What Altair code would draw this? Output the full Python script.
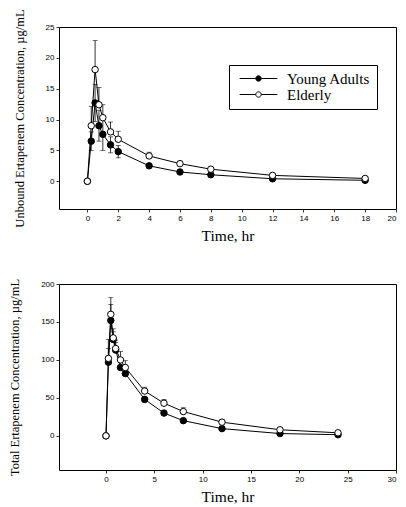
import altair as alt
import pandas as pd

# ---------------- data ----------------
series_names = ["Young Adults", "Elderly"]

times_unbound = [0, 0.25, 0.5, 0.75, 1, 1.5, 2, 4, 6, 8, 12, 18]
young_unbound = [0, 6.5, 12.7, 9.0, 7.6, 5.9, 4.8, 2.5, 1.5, 1.05, 0.4, 0.15]
young_unbound_sd = [0, 1.5, 3.0, 2.5, 2.6, 1.3, 1.0, 0.3, 0.2, 0.15, 0.1, 0.05]
elderly_unbound = [0, 9.0, 18.1, 12.4, 10.3, 8.0, 6.8, 4.1, 2.85, 1.95, 0.95, 0.45]
elderly_unbound_sd = [0, 3.1, 4.7, 2.8, 2.1, 1.6, 1.3, 0.6, 0.4, 0.3, 0.2, 0.1]

times_total = [0, 0.25, 0.5, 0.75, 1, 1.5, 2, 4, 6, 8, 12, 18, 24]
young_total = [0, 97, 152, 127, 113, 90, 82, 48, 30, 20, 9.5, 3, 1.5]
young_total_sd = [0, 18, 21, 10, 10, 8, 7, 4, 3, 2, 1.5, 1, 0.5]
elderly_total = [0, 102, 160, 129, 115, 100, 90, 59, 43, 32, 18, 8, 4]
elderly_total_sd = [0, 25, 22, 12, 11, 11, 9, 5, 5, 5, 3, 2, 1]

unbound_x_ticks = [0, 2, 4, 6, 8, 10, 12, 14, 16, 18, 20]
unbound_y_ticks = [0, 5, 10, 15, 20, 25]
total_x_ticks = [0, 5, 10, 15, 20, 25, 30]
total_y_ticks = [0, 50, 100, 150, 200]


def build(times, young, young_sd, eld, eld_sd, young_down):
    rows, caps = [], []
    for name, vals, sds, down in [(series_names[0], young, young_sd, young_down),
                                  (series_names[1], eld, eld_sd, False)]:
        for t, v, s in zip(times, vals, sds):
            lo = v - s if down else v
            hi = v + s
            rows.append({"t": t, "c": v, "series": name, "lo": lo, "hi": hi})
            if s > 0:
                caps.append({"t": t, "y": hi, "series": name})
                if down:
                    caps.append({"t": t, "y": lo, "series": name})
    return pd.DataFrame(rows), pd.DataFrame(caps)


df_u, caps_u = build(times_unbound, young_unbound, young_unbound_sd,
                     elderly_unbound, elderly_unbound_sd, True)
df_t, caps_t = build(times_total, young_total, young_total_sd,
                     elderly_total, elderly_total_sd, False)

SERIF = "Liberation Serif"
SANS = "Liberation Sans"

# legend glyph: short line through a small circle (circle radius = 1 unit)
legend_path = ("M-7,0L-1,0M1,0L7,0"
               "M1,0A1,1,0,1,1,-1,0A1,1,0,1,1,1,0Z")


def panel(df, caps, xdom, ydom, xticks, yticks, ytitle, ytitle_size, width, height, legend):
    xscale = alt.Scale(domain=xdom, nice=False, zero=False)
    yscale = alt.Scale(domain=ydom, nice=False, zero=False)
    xaxis = alt.Axis(values=xticks, title="Time, hr", titleFontSize=15.5,
                     titlePadding=6, labelOverlap=False)
    yaxis = alt.Axis(values=yticks, title=ytitle, titleFontSize=ytitle_size,
                     titlePadding=19, labelOverlap=False)

    def X(f):
        return alt.X(f, scale=xscale, axis=xaxis)

    def Y(f):
        return alt.Y(f, scale=yscale, axis=yaxis)

    base = alt.Chart(df)
    lines = base.mark_line(color="black", strokeWidth=1).encode(
        x=X("t:Q"), y=Y("c:Q"), detail="series:N")
    bars = base.mark_rule(color="black", strokeWidth=0.8).encode(
        x=X("t:Q"), y=Y("lo:Q"), y2="hi:Q")
    cap_marks = alt.Chart(caps).mark_tick(
        orient="horizontal", color="black", size=5, thickness=0.8).encode(
        x=X("t:Q"), y=Y("y:Q"))
    if legend:
        leg = alt.Legend(
            title=None, orient="none", legendX=170, legendY=38,
            symbolType=legend_path, symbolSize=29, symbolStrokeColor="black",
            symbolStrokeWidth=1, symbolOffset=16, labelFont=SERIF, labelFontSize=15,
            labelColor="black", labelOffset=21, strokeColor="black",
            fillColor="white", padding=6, rowPadding=0)
    else:
        leg = None
    pts = base.mark_point(filled=True, stroke="black", strokeWidth=1, size=42,
                          opacity=1, shape="circle").encode(
        x=X("t:Q"), y=Y("c:Q"),
        fill=alt.Fill("series:N", sort=series_names,
                      scale=alt.Scale(domain=series_names, range=["black", "white"]),
                      legend=leg),
        order=alt.Order("ord:Q"))
    pts = pts.transform_calculate(ord="datum.series == 'Young Adults' ? 0 : 1")
    return alt.layer(lines, bars, cap_marks, pts).properties(width=width, height=height)


top = panel(df_u, caps_u, [-1.84, 20], [-4.5, 25], unbound_x_ticks, unbound_y_ticks,
            "Unbound Ertapenem Concentration, µg/mL", 12.5, 337, 182, True)
bottom = panel(df_t, caps_t, [-4.86, 30], [-45, 200], total_x_ticks, total_y_ticks,
               "Total Ertapenem Concentration, µg/mL", 12.5, 337, 186, False)

chart = alt.vconcat(top, bottom, spacing=33).resolve_scale(
    fill="independent").resolve_legend(fill="independent").configure(
    padding={"left": 0, "top": 0, "right": 0, "bottom": 0},
    background="white",
).configure_view(stroke="black", strokeWidth=1).configure_axis(
    grid=False, domain=False, ticks=True, tickSize=3, tickColor="black",
    tickWidth=0.8, labelFont=SANS, labelFontSize=8, labelColor="black",
    labelPadding=2, labelOverlap=False, titleFont=SERIF, titleFontWeight="normal",
    titleColor="black")

chart.save("out.html", embed_options={"renderer": "svg", "actions": False})
